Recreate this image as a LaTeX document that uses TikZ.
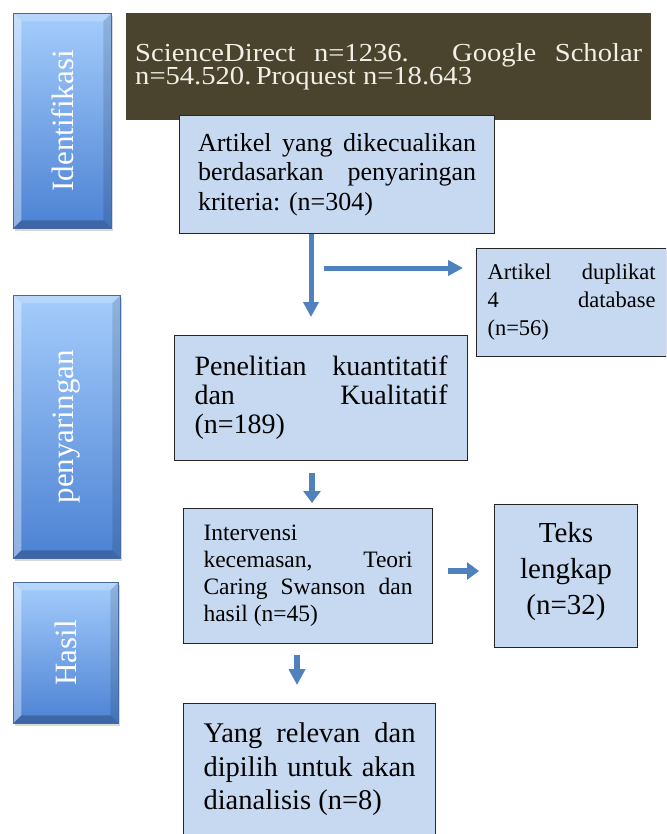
\documentclass[tikz,border=0pt]{standalone}
\usepackage{fontspec}
\setmainfont{Liberation Serif}
\newfontfamily\srcfont{Liberation Serif}[FakeStretch=1.1]
\usetikzlibrary{arrows.meta,shadows}
\definecolor{boxfill}{RGB}{198,217,240}
\definecolor{topfill}{RGB}{74,67,45}
\definecolor{toptext}{RGB}{242,240,230}
\definecolor{arrowblue}{RGB}{79,129,189}
\definecolor{bartop}{RGB}{165,205,252}
\definecolor{barbot}{RGB}{76,130,212}
\definecolor{baredge}{RGB}{70,105,160}
\tikzset{
  flowbox/.style={draw=black!85, line width=1.1pt, fill=boxfill, inner sep=0pt,
    anchor=north west, align=justify},
  sidebar/.style={draw=baredge, line width=.6pt, top color=bartop, bottom color=barbot,
    anchor=north west, inner sep=0pt, text=white, font=\fontsize{31}{36}\selectfont,
    drop shadow={shadow xshift=2pt, shadow yshift=-3pt, opacity=.25, fill=black!60},
    path picture={
      \fill[white,opacity=.38] (path picture bounding box.north west)
        -- ([shift={(8,8)}]path picture bounding box.north west)
        -- ([shift={(8,-8)}]path picture bounding box.south west)
        -- (path picture bounding box.south west) -- cycle;
      \fill[white,opacity=.2] (path picture bounding box.north west)
        -- (path picture bounding box.north east)
        -- ([shift={(-8,8)}]path picture bounding box.north east)
        -- ([shift={(8,8)}]path picture bounding box.north west) -- cycle;
      \fill[black,opacity=.12] (path picture bounding box.north east)
        -- (path picture bounding box.south east)
        -- ([shift={(-8,-8)}]path picture bounding box.south east)
        -- ([shift={(-8,8)}]path picture bounding box.north east) -- cycle;
      \fill[black,opacity=.22] (path picture bounding box.south west)
        -- (path picture bounding box.south east)
        -- ([shift={(-8,-8)}]path picture bounding box.south east)
        -- ([shift={(8,-8)}]path picture bounding box.south west) -- cycle;
    }},
  arrA/.style={draw=arrowblue, line width=5pt, -{Triangle[width=15pt,length=15pt]}},
  arrB/.style={draw=arrowblue, line width=6pt, -{Triangle[width=17pt,length=12pt]}},
}
\begin{document}
\begin{tikzpicture}[x=1pt,y=-1pt]
\clip (0,0) rectangle (666,834);
\fill[white] (0,0) rectangle (666,834);

% side bars
\node[sidebar, minimum width=98pt, minimum height=215pt] (idbar) at (13,13) {\rotatebox{90}{Identifikasi}};
\node[sidebar, minimum width=107pt, minimum height=263pt] (penbar) at (13,295) {\rotatebox{90}{penyaringan}};
\node[sidebar, minimum width=105pt, minimum height=141pt] (hasbar) at (13,582) {\rotatebox{90}{Hasil}};

% top source box
\node[fill=topfill, inner sep=0pt, anchor=north west, minimum width=525pt, minimum height=107pt,
  text width=507pt, align=justify, text=toptext, font=\srcfont\fontsize{26}{23.5}\selectfont] (src) at (126,13)
  {\lineskiplimit=-30pt ScienceDirect n=1236. Google Scholar\linebreak n=54.520.\,Proquest n=18.643};

% flow boxes
\node[flowbox, minimum width=315pt, minimum height=118pt, text width=278pt,
  font=\fontsize{26}{29.5}\selectfont] (artikel) at (179,115)
  {Artikel yang dikecualikan\linebreak berdasarkan penyaringan\linebreak kriteria: (n=304)};

\node[flowbox, minimum width=190pt, minimum height=108pt, text width=168pt,
  font=\fontsize{22.5}{28}\selectfont] (duplikat) at (476,248)
  {\leftskip=10pt Artikel duplikat\linebreak 4 database\linebreak (n=56)};

\node[flowbox, minimum width=293pt, minimum height=125pt, text width=253pt,
  font=\fontsize{28}{29}\selectfont] (penelitian) at (174,335)
  {Penelitian kuantitatif\linebreak dan Kualitatif\linebreak (n=189)};

\node[flowbox, minimum width=249pt, minimum height=135pt, text width=209pt,
  font=\fontsize{23.5}{27}\selectfont] (intervensi) at (183,508)
  {Intervensi\linebreak kecemasan, Teori\linebreak Caring Swanson dan\linebreak hasil (n=45)};

\node[flowbox, minimum width=143pt, minimum height=143pt,
  font=\fontsize{29}{36}\selectfont] (teks) at (494,504)
  {\raisebox{4.5pt}[\height][\depth]{\parbox{120pt}{\centering Teks\\lengkap\\(n=32)}}};

\node[flowbox, minimum width=252pt, minimum height=132pt, text width=212pt,
  font=\fontsize{28.5}{33.5}\selectfont] (relevan) at (183,703)
  {Yang relevan dan\linebreak dipilih untuk akan\linebreak dianalisis (n=8)};

% connectors
\coordinate (v1) at (311,0);
\coordinate (h1) at (324,268);
\coordinate (v2) at (312,0);
\coordinate (h2) at (0,571);
\coordinate (v3) at (297,0);

\draw[arrA, shorten >=18pt] (artikel.south -| v1) -- (penelitian.north -| v1);
\draw[arrA, shorten >=13pt] (h1) -- (h1 -| duplikat.west);
\draw[arrB, shorten <=12pt, shorten >=5pt] (penelitian.south -| v2) -- (intervensi.north -| v2);
\draw[arrB, shorten <=15pt, shorten >=15pt] (intervensi.east |- h2) -- (teks.west |- h2);
\draw[arrB, shorten <=11pt, shorten >=18pt, -{Triangle[width=16pt,length=16pt]}] (intervensi.south -| v3) -- (relevan.north -| v3);
\end{tikzpicture}
\end{document}
